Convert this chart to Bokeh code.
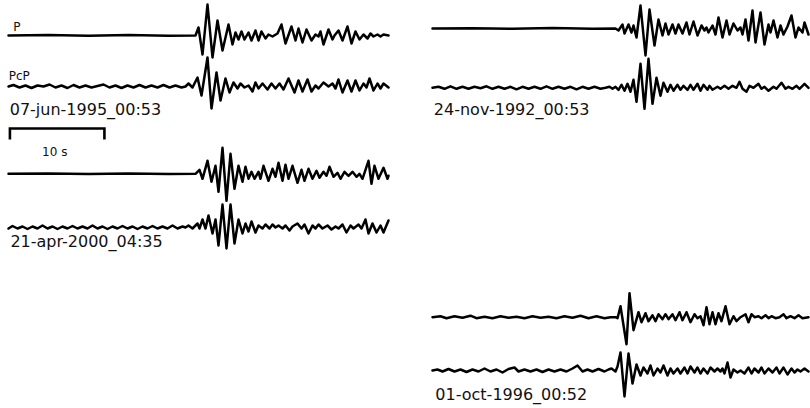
from bokeh.plotting import figure
from bokeh.models import Range1d
from bokeh.embed import file_html
from bokeh.resources import INLINE
from bokeh.core.properties import value

# sampling interval (s): 10 s scale bar
DT = 10.0 / 94.5

EVENTS = ["07-jun-1995_00:53", "24-nov-1992_00:53", "21-apr-2000_04:35", "01-oct-1996_00:52"]
PHASES = ["P", "PcP"]
SCALE_LABEL = "10 s"
SCALE_SECONDS = 10.0

# ---- event 1: 07-jun-1995 (sample index, amplitude) ----
e1_p_n = [0, 40, 80, 120, 160, 187, 190, 194, 199, 204, 209, 214, 220, 224, 227, 230, 233, 236, 240, 243,
          247, 250, 253, 257, 260, 264, 269, 273, 277, 283, 287, 290, 294, 298, 303, 307, 310, 312, 315, 320,
          324, 326, 330, 334, 339, 343, 347, 351, 355, 359, 362, 365, 369, 372, 375, 380]
e1_p_a = [0, 0.5, -0.3, 0.4, -0.3, 0, 8, -19, 31, -22, 15, -15, 11, -9, 3, -4, 4, -4, 3, -5,
          5, -5, 4, -3, 1, -1, 2, 11, -8, 9, -5, 7, -7, 6, -5, 1, -1, 4, -9, 6,
          -4, 0, 5, -5, 9, -8, 4, -4, 1, -3, 2, -1, 1, -1, 1, 0]
e1_pcp_n = [0, 5, 11, 17, 23, 29, 35, 41, 47, 53, 59, 65, 71, 77, 83, 89, 95, 101, 107, 113,
            119, 125, 131, 137, 143, 149, 155, 161, 167, 173,
            177, 180, 184, 189, 193, 199, 203, 208, 212, 217, 221, 225, 229, 232, 236, 240, 244, 247, 250, 254,
            259, 263, 267, 271, 275, 280, 286, 290, 294, 299, 303, 307, 310, 315, 320, 324, 327, 330, 334, 339,
            343, 347, 351, 355, 358, 361, 365, 369, 372, 375, 380]
e1_pcp_a = [0, 1.5, -1, 1, -1.5, 1, 0, 2, -1, 1, -1.5, 1.5, -1, 1, -1, 0.5, 2, -1, 1, -1.5,
            1, -1, 1.5, -1, 1, -1, 1.5, -1, 1, -1,
            0, 3, -1, 9, -9, 29, -22, 14, -14, 8, -6, 4, -2, 3, -1, 1, -5, 4, -2, 3,
            -3, 3, -2, 3, -3, 8, -6, 6, -5, 7, -5, 1, -2, 4, 0, 3, -2, 7, -6, 6,
            -5, 6, -4, 3, -1, 8, -4, 3, -2, 3, -1]

# ---- event 2: 24-nov-1992 ----
e2_p_n = [0, 40, 80, 120, 160, 183, 186, 190, 192, 196, 199, 201, 204, 208, 213, 217, 222, 226, 230, 233,
          236, 240, 243, 246, 250, 254, 257, 261, 265, 269, 272, 274, 276, 280, 283, 286, 290, 294, 297, 301,
          305, 308, 310, 313, 316, 320, 323, 328, 332, 336, 338, 341, 345, 348, 351, 355, 359, 363, 366, 370,
          372, 376]
e2_p_a = [0, 0.3, -0.3, 0.4, -0.3, 0, -2, 4, -5, 4, -4, 3, -9, 23, -27, 19, -17, 9, -7, 5,
          -6, 4, -5, 4, -5, 6, -6, 7, -7, 3, -2, 1, -4, 3, -6, 11, -9, 8, -6, 5,
          -2, 1, -6, 9, -12, 18, -14, 16, -16, 4, -4, 8, -9, 3, -6, 2, 13, -9, 1, -4,
          6, -6]
e2_pcp_n = [0, 6, 12, 18, 24, 30, 36, 42, 48, 54, 60, 66, 72, 78, 84, 90, 96, 102, 108, 114,
            120, 126, 132, 138, 144, 150, 156, 162, 168,
            173, 177, 180, 183, 186, 189, 192, 195, 198, 201, 204, 208, 212, 216, 220, 224, 228, 231, 235, 238,
            241, 245, 248, 251, 255, 258, 261, 265, 268, 271, 275, 277, 280, 285, 288, 292, 296, 300, 304, 307,
            310, 314, 317, 321, 326, 329, 332, 336, 341, 344, 349, 353, 356, 360, 364, 367, 372, 376]
e2_pcp_a = [0, 1, -1, 1.5, -1, 1, -1, 1, -0.5, 1.5, -1, 1, -1, 1, -1.5, 1, -1, 1, -1, 1.5,
            -1, 1, -1, 1, -1.5, 1, -1, 1, -1,
            0, 1, -1, 1, -2, 3, -3, 4, -4, 8, -14, 24, -21, 29, -16, 10, -8, 5, -4, 3,
            -3, 3, -2, 2, -2, 3, -2, 4, -3, 3, -2, 2, -2, 1, -1, 2, -1, 2, 0, 6,
            -1, -4, 2, 0, 4, -1, 1, -3, 1, -1, 5, -1, 1, -1, 2, -1, 4, 0]

# ---- event 3: 21-apr-2000 ----
e3_p_n = [0, 40, 80, 120, 160, 187, 191, 194, 199, 203, 207, 210, 214, 218, 222, 226, 230, 234, 237, 240,
          243, 246, 250, 252, 255, 260, 264, 267, 270, 274, 277, 280, 284, 289, 293, 296, 300, 304, 308, 311,
          315, 318, 321, 325, 329, 332, 336, 340, 344, 348, 351, 354, 360, 363, 366, 370, 375, 379, 380]
e3_p_a = [0, 0.3, -0.3, 0.3, -0.3, 0, 4, -5, 13, -8, 8, -18, 26, -27, 20, -15, 8, -8, 7, -5,
          2, -5, 2, -5, 8, -7, 5, -3, 11, -7, 9, -5, 8, -9, 4, -7, 5, -5, 3, -4,
          2, -2, 7, -3, 1, -5, 2, -2, 2, -3, 0, -5, 13, -10, 8, -5, 6, -5, -2]
e3_pcp_n = [0, 4, 9, 14, 19, 24, 29, 34, 39, 44, 49, 54, 59, 64, 69, 74, 79, 84, 89, 94,
            99, 104, 109, 114, 119, 124, 129, 134, 139, 144, 149, 154, 159, 164, 169, 174,
            177, 180, 184, 189, 191, 194, 197, 200, 204, 207, 210, 214, 218, 222, 226, 230, 234, 237, 240, 243,
            247, 250, 254, 257, 261, 264, 267, 270, 274, 277, 281, 284, 289, 293, 296, 300, 304, 307, 310, 314,
            319, 323, 327, 330, 334, 338, 342, 345, 350, 353, 357, 360, 364, 368, 372, 375, 380]
e3_pcp_a = [-1, 1.5, -1, 1, -1.5, 1, -1, 2, -1, 1, -1.5, 1, -1, 1.5, -1, 1, -1, 2, -1, 1,
            -1.5, 1, -1, 1.5, -1, 1, -1.5, 1, -1, 1.5, -1, 1, -1, 2, -1, 1,
            0, 2, -1, 4, -1, 8, -1, 12, -6, 8, -18, 23, -21, 23, -16, 8, -6, 4, -4, 6,
            -5, 2, -1, 3, -1, 3, 0, 2, -1, 2, -3, 1, 4, -1, 3, -6, 2, -1, 3, -1,
            2, -2, 1, -1, 3, -5, 2, -1, 3, -1, 8, -6, 4, -5, 2, -5, 7]

# ---- event 4: 01-oct-1996 ----
e4_p_n = [0, 8, 14, 22, 30, 38, 44, 52, 60, 68, 76, 84, 92, 100, 108, 116, 124, 132, 140, 148,
          156, 164, 172, 178,
          183, 185, 188, 194, 197, 201, 206, 209, 213, 216, 220, 223, 226, 230, 233, 236, 240, 243, 247, 250,
          254, 258, 262, 265, 268, 271, 274, 277, 280, 283, 286, 289, 293, 297, 301, 304, 308, 313, 316, 319,
          322, 326, 329, 333, 336, 339, 343, 347, 351, 354, 358, 362, 366, 370, 376]
e4_p_a = [0, 1, -1, 1, -0.5, 1.5, -1, 0.5, -1, 1, -0.5, 0.5, -1, 1, -0.5, 0.5, -1, 1, -0.5, 1.5,
          -1, 1, -1, 0,
          0, -1, 11, -27, 24, -13, 5, -5, 4, -4, 2, -4, 3, -2, 3, -2, 3, -3, 5, -3,
          5, -5, 3, -1, 1, -8, 10, -7, 5, -7, 4, -4, 11, -7, 1, -4, 0, 3, -5, 3,
          0, 1, -1, 2, -1, 1, -1, 0, 3, -1, 1, -1, 2, -1, 0]
e4_pcp_n = [0, 5, 10, 16, 22, 28, 34, 40, 46, 52, 58, 64, 70, 76, 82, 86, 92, 98, 104, 110,
            116, 122, 128, 134, 140, 145, 150, 155, 160, 166, 172, 176,
            179, 183, 185, 188, 192, 196, 200, 204, 208, 211, 215, 218, 221, 225, 228, 231, 235, 238, 241, 245,
            248, 252, 255, 258, 262, 265, 268, 271, 275, 278, 282, 285, 288, 290, 292, 295, 298, 301, 305, 308,
            312, 316, 319, 322, 326, 329, 332, 336, 340, 344, 347, 351, 355, 359, 362, 365, 368, 372, 376]
e4_pcp_a = [0, 1, -1, 1.5, -1, 1, -1.5, 1, -1, 2, -1, 1, -2, 1.5, 3, -1, 1, -1, 1, -1.5,
            1, -1, 1, -1, 2, 5, -1, 1, -1, 1.5, -1, 1,
            2, -1, 4, 18, -26, 17, -13, 6, -5, 3, -3, 5, -5, 2, -2, 5, -5, 2, -3, 2,
            -3, 3, -3, 4, -2, 3, -3, 2, -3, 3, -1, 2, -1, 2, -3, 8, -7, 1, -2, 0,
            -3, 3, -3, 2, -2, 3, -3, 2, -2, 3, -3, 3, -4, 2, -2, 1, -1, 2, -1]

# ---------------- layout ----------------
W, H = 810, 408
X_PAD = 8            # px before the left traces start
LEFT_X0 = 0.0
RIGHT_X0 = 424 * DT

traces = [
    (e1_p_n, e1_p_a, LEFT_X0, 35.0),
    (e1_pcp_n, e1_pcp_a, LEFT_X0, 86.0),
    (e2_p_n, e2_p_a, RIGHT_X0, 28.0),
    (e2_pcp_n, e2_pcp_a, RIGHT_X0, 87.3),
    (e3_p_n, e3_p_a, LEFT_X0, 173.3),
    (e3_pcp_n, e3_pcp_a, LEFT_X0, 227.0),
    (e4_p_n, e4_p_a, RIGHT_X0, 316.7),
    (e4_pcp_n, e4_pcp_a, RIGHT_X0, 370.0),
]

p = figure(width=W, height=H, x_range=Range1d(-X_PAD * DT, (W - X_PAD) * DT), y_range=Range1d(H, 0),
           x_axis_location=None, y_axis_location=None, toolbar_location=None,
           output_backend="svg", min_border=0)
p.outline_line_color = None
p.grid.grid_line_color = None
p.background_fill_color = "white"
p.border_fill_color = "white"

for n, a, x0, base in traces:
    t = [x0 + k * DT for k in n]
    y = [base - v for v in a]
    p.line(t, y, line_color="black", line_width=2.5, line_join="round", line_cap="round")

# scale bar
sb0 = 0.15
p.line([sb0, sb0, sb0 + SCALE_SECONDS, sb0 + SCALE_SECONDS], [139, 128, 128, 139],
       line_color="black", line_width=2.6, line_join="miter")

FONT = value("DejaVu Sans")
# phase labels and scale label
p.text(x=[0.5, 0.03, 3.55], y=[26.7, 75.0, 151.7], text=[PHASES[0], PHASES[1], SCALE_LABEL],
       text_font=FONT, text_font_size="12px", text_baseline="alphabetic", text_align="left",
       text_color="#111111")
# event labels
p.text(x=[0.13, RIGHT_X0 + 0.14, 0.2, RIGHT_X0 + 0.3], y=[109.0, 108.6, 241.2, 393.6], text=EVENTS,
       text_font=FONT, text_font_size="16px", text_baseline="alphabetic", text_align="left",
       text_color="#111111")

open("out.html", "w").write(file_html(p, INLINE))
